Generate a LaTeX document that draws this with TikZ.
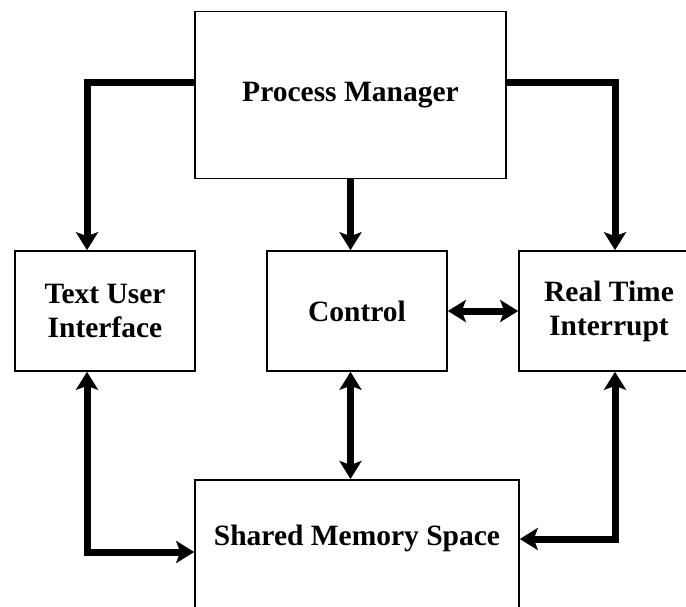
\documentclass[tikz,border=0pt]{standalone}
\usepackage{fontspec}
\setmainfont{Liberation Serif}
\usetikzlibrary{arrows.meta}

\begin{document}
\begin{tikzpicture}[x=1pt, y=-1pt,
    >={Stealth[length=18pt, width=22pt, inset=4pt]},
    block/.style={draw, line width=1.6pt, inner sep=0pt, align=center,
        font=\fontsize{29.5}{34}\selectfont\bfseries},
    small/.style={block, minimum width=180pt, minimum height=120pt},
    link/.style={line width=7pt, ->},
    both/.style={line width=7pt, <->}]
    \clip (0,0) rectangle (686,607);
    % the five blocks
    \node[block, minimum width=311pt, minimum height=167pt] (pm) at (350.5,95) {Process Manager};
    \node[small] (tui) at (105,311) {Text User\\Interface};
    \node[small] (ctrl) at (357,311) {Control};
    \node[small] (rti) at (609,311) {Real Time\\Interrupt};
    \node[block, minimum width=324pt, minimum height=180pt, anchor=north] (sms) at (357,479) {};
    \node[font=\fontsize{29.5}{34}\selectfont\bfseries] (smstext) at (357,538) {Shared Memory Space};
    % corners of the bent links
    \coordinate (tl) at (87,83);
    \coordinate (tr) at (615,83);
    \coordinate (bl) at (87,552);
    \coordinate (br) at (615,539);
    \draw[link] (pm.west |- tl) -- (tl) -- (tl |- tui.north);
    \draw[link] (pm.east |- tr) -- (tr) -- (tr |- rti.north);
    \draw[link] (pm.south) -- (pm.south |- ctrl.north);
    \draw[both] (ctrl.east) -- (rti.west);
    \draw[both] (pm.south |- ctrl.south) -- (pm.south |- sms.north);
    \draw[both] (tl |- tui.south) -- (bl) -- (bl -| sms.west);
    \draw[both] (tr |- rti.south) -- (br) -- (br -| sms.east);
\end{tikzpicture}
\end{document}
